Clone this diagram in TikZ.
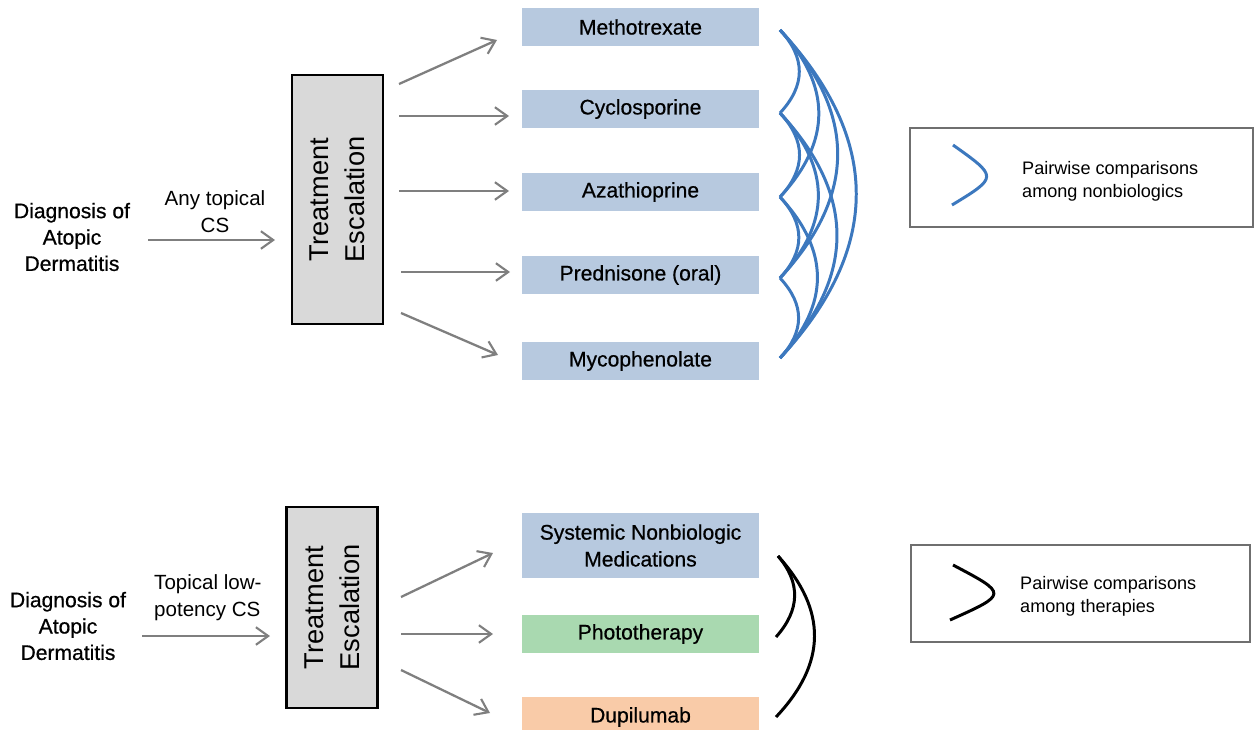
\documentclass[tikz,border=0pt]{standalone}
\usepackage{fontspec}
\setmainfont{Liberation Sans}
\newfontfamily\medfont[FakeBold=0.6]{Liberation Sans}
\usetikzlibrary{arrows.meta}
\definecolor{drugblue}{HTML}{B7C9DF}
\definecolor{photogreen}{HTML}{A9D9B0}
\definecolor{dupiorange}{HTML}{F9CBA8}
\definecolor{escgray}{HTML}{D9D9D9}
\definecolor{arrgray}{HTML}{7F7F7F}
\definecolor{legborder}{HTML}{6F6F6F}
\definecolor{curveblue}{HTML}{3C78BE}
\tikzset{
  drugbox/.style={fill=#1, minimum width=237*0.02cm, inner sep=0pt, font=\medfont\fontsize{12}{15.3}\selectfont, align=center},
  escbox/.style={draw=black, line width=1.2pt, fill=escgray, minimum width=91*0.02cm, inner sep=0pt},
  esctext/.style={rotate=90, align=center, font=\fontsize{15.5}{20.4}\selectfont},
  diag/.style={align=center, font=\medfont\fontsize{12}{15}\selectfont},
  lbl/.style={font=\fontsize{11.7}{15.3}\selectfont},
  flow/.style={draw=arrgray, line width=1.3pt, -{Straight Barb[length=7pt,width=10pt,line width=1.2pt]}},
  legbox/.style={draw=legborder, line width=1pt, fill=white},
  legtext/.style={align=left, anchor=west, font=\fontsize{10.3}{13}\selectfont},
  bluecurve/.style={draw=curveblue, line width=1.7pt},
  blackcurve/.style={draw=black, line width=1.7pt}
}
\begin{document}
\begin{tikzpicture}[x=0.02cm, y=-0.02cm]
\useasboundingbox (0,0) rectangle (1254,730);
\clip (0,0) rectangle (1254,730);

% ---------------- top panel ----------------
\node[diag] (diag1) at (72,237) {Diagnosis of\\Atopic\\Dermatitis};
\coordinate (a1s) at (148,240);
\coordinate (a1e) at (275,240);
\draw[flow] (a1s) -- (a1e);
\node[lbl, align=center] (lab1) at (215,212) {Any topical\\CS};

\node[escbox, minimum height=249*0.02cm] (esc1) at (337.5,199.5) {};
\node[esctext] (esc1t) at (esc1.center) {Treatment\\Escalation};

\node[drugbox=drugblue, minimum height=38*0.02cm] (mtx) at (640.5,27) {Methotrexate};
\node[drugbox=drugblue, minimum height=38*0.02cm] (cyc) at (640.5,109) {Cyclosporine};
\node[drugbox=drugblue, minimum height=38*0.02cm] (aza) at (640.5,192) {Azathioprine};
\node[drugbox=drugblue, minimum height=38*0.02cm] (pred) at (640.5,275) {Prednisone (oral)};
\node[drugbox=drugblue, minimum height=38*0.02cm] (myc) at (640.5,361) {Mycophenolate};

\coordinate (t1s) at (399,84);  \coordinate (t1e) at (497,40);
\coordinate (t2s) at (399,116); \coordinate (t2e) at (509,116);
\coordinate (t3s) at (399,191); \coordinate (t3e) at (509,191);
\coordinate (t4s) at (401,272); \coordinate (t4e) at (510,272);
\coordinate (t5s) at (401,313); \coordinate (t5e) at (498,355);
\foreach \k in {1,...,5} { \draw[flow] (t\k s) -- (t\k e); }

% pairwise curves among nonbiologics
\foreach \a/\b in {30/113,30/197,30/278,30/358,113/197,113/278,113/358,197/278,197/358,278/358} {
  \draw[bluecurve] (780,\a) .. controls ({780+0.31*(\b-\a)},{\a+(\b-\a)/3}) and ({780+0.31*(\b-\a)},{\b-(\b-\a)/3}) .. (780,\b);
}

% legend top
\node[legbox, minimum width=343*0.02cm, minimum height=99*0.02cm] (leg1) at (1081.5,177.5) {};
\draw[bluecurve] (953,145) .. controls (998,177) .. (952,205);
\node[legtext] (leg1t) at (1016,181) {Pairwise comparisons\\among nonbiologics};

% ---------------- bottom panel ----------------
\node[diag] (diag2) at (68,626) {Diagnosis of\\Atopic\\Dermatitis};
\coordinate (a2s) at (142,636);
\coordinate (a2e) at (270,636);
\draw[flow] (a2s) -- (a2e);
\node[lbl, align=left, anchor=west] (lab2) at (148,598) {Topical low-\\potency CS};

\node[escbox, minimum height=201*0.02cm] (esc2) at (332,607.5) {};
\node[esctext] (esc2t) at (esc2.center) {Treatment\\Escalation};

\node[drugbox=drugblue, minimum height=65*0.02cm] (sys) at (640.5,545.5) {Systemic Nonbiologic\\Medications};
\node[drugbox=photogreen, minimum height=38*0.02cm] (photo) at (640.5,634) {Phototherapy};
\node[drugbox=dupiorange, minimum height=40*0.02cm] (dupi) at (640.5,717) {Dupilumab};

\coordinate (b1s) at (401,597); \coordinate (b1e) at (493,553);
\coordinate (b2s) at (401,634); \coordinate (b2e) at (493,634);
\coordinate (b3s) at (401,670); \coordinate (b3e) at (490,713);
\foreach \k in {1,2,3} { \draw[flow] (b\k s) -- (b\k e); }

\coordinate (c1) at (778,556);
\coordinate (c2) at (776,637);
\coordinate (c3) at (776,717);
\draw[blackcurve] (c1) .. controls (801,583) and (800,610) .. (c2);
\draw[blackcurve] (c1) .. controls (827,610) and (827,663) .. (c3);

% legend bottom
\node[legbox, minimum width=339*0.02cm, minimum height=97*0.02cm] (leg2) at (1080.5,593.5) {};
\draw[blackcurve] (953,565) .. controls (1008,594) .. (950,620);
\node[legtext] (leg2t) at (1014,596) {Pairwise comparisons\\among therapies};
\end{tikzpicture}
\end{document}
